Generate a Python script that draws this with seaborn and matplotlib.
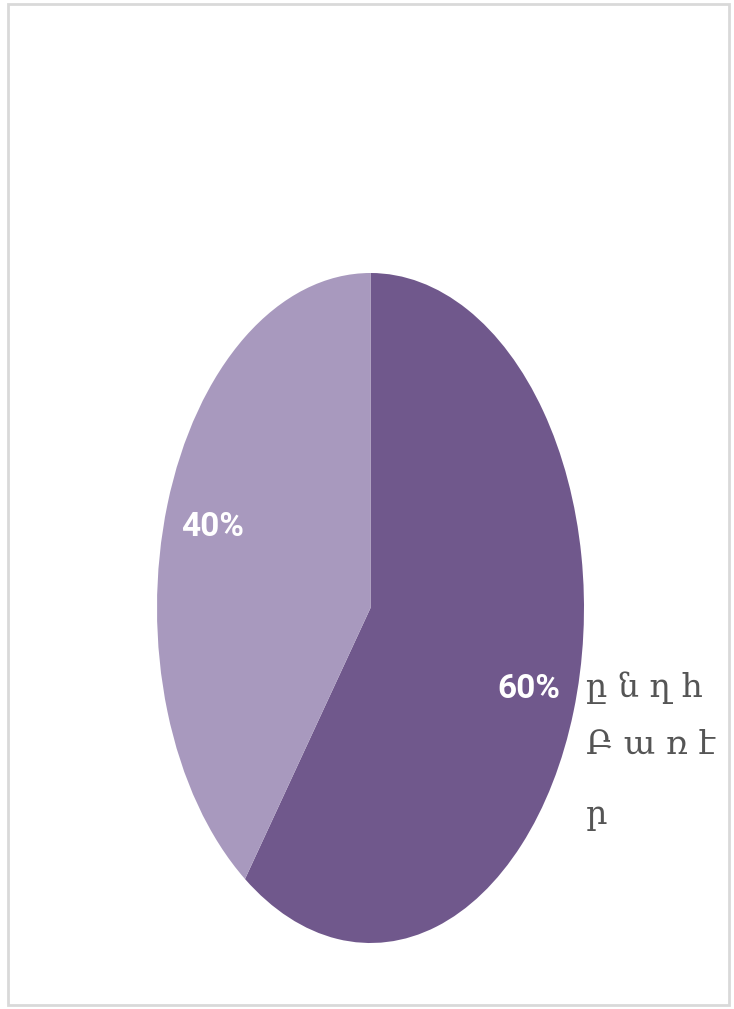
import matplotlib
matplotlib.use("Agg")
import matplotlib.pyplot as plt
import seaborn as sns
from matplotlib.patches import Rectangle

# Data
categories = ["ընղհԲառէր", "other"]
shares = [60, 40]
pct_labels = ["60%", "40%"]
colors = ["#70588C", "#A899BE"]
legend_lines = ["ը ն ղ հ", "Բ ա ռ է", "ր"]

sns.set_theme(style="white")
plt.rcParams['font.family'] = ['DejaVu Sans']

fig = plt.figure(figsize=(7.34, 10.09), dpi=100)
fig.patch.set_facecolor("white")

ax = fig.add_axes([157/734, (1009-943)/1009, 427/734, 670/1009])
wedges, texts = ax.pie(shares, colors=colors, startangle=90, counterclock=False,
                       labels=pct_labels, labeldistance=0.78,
                       wedgeprops=dict(linewidth=0))
for t in texts:
    t.set_color("white")
    t.set_fontsize(24)
    t.set_fontweight("bold")
    t.set_fontfamily("Roboto")
    t.set_ha("center")
    t.set_va("center")
ax.set_aspect("auto")
ax.set_xlim(-1, 1)
ax.set_ylim(-1, 1)
ax.axis("off")

# legend-like text
ys = [688, 745, 815]
for line, y in zip(legend_lines, ys):
    fig.text(586/734, 1 - y/1009, line, fontsize=24, color="#555555",
             family="DejaVu Serif", ha="left", va="center")

# border
fig.patches.append(Rectangle((8/734, 4/1009), 721/734, 1001/1009,
                             transform=fig.transFigure, fill=False,
                             edgecolor="#d9d9d9", linewidth=2))

fig.savefig("out.png", dpi=100)
